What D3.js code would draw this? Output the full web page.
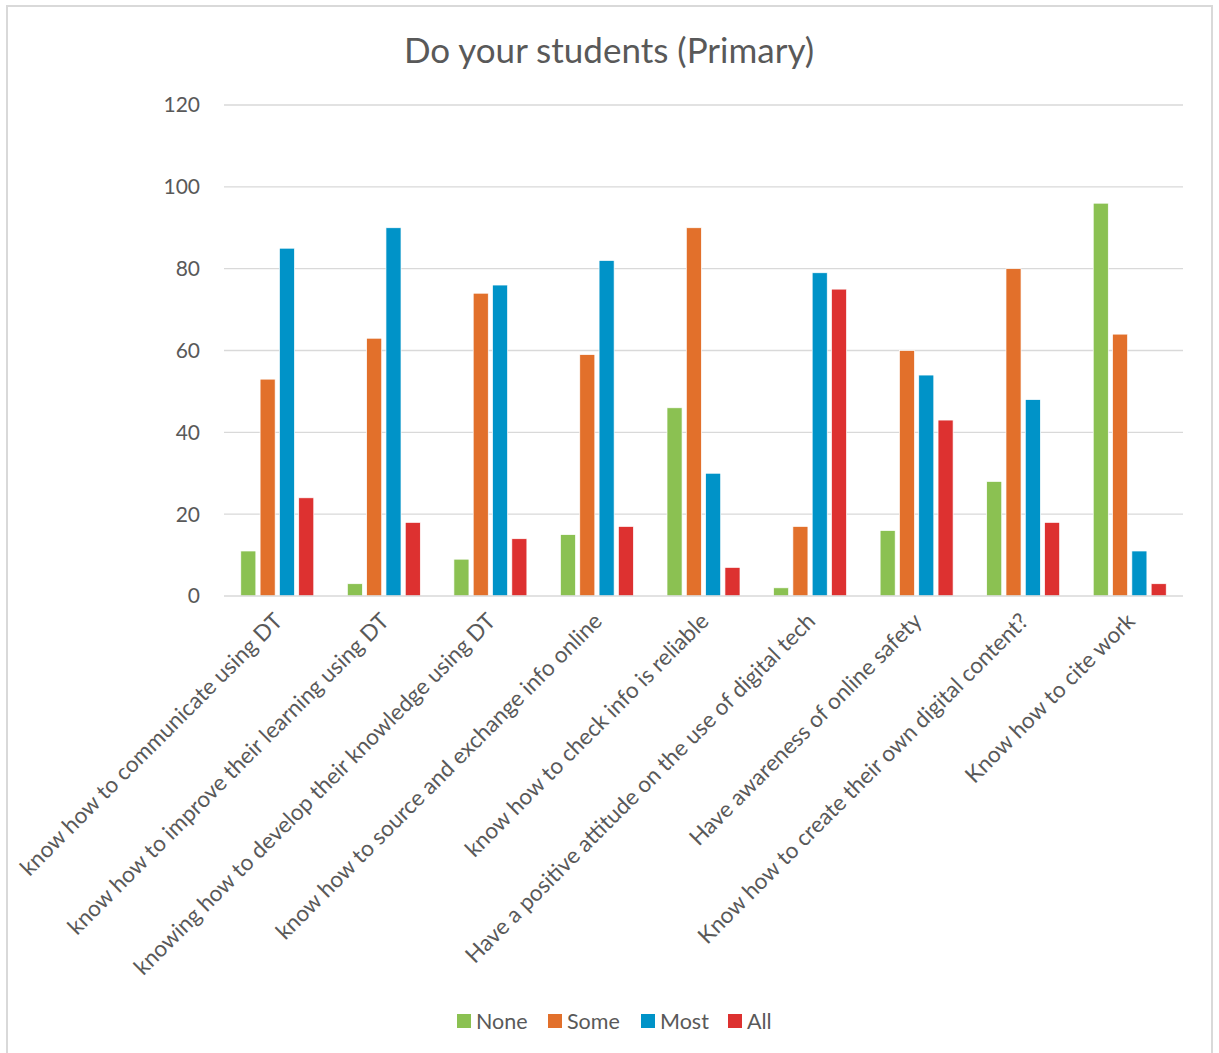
<!DOCTYPE html>
<html>
<head>
<meta charset="utf-8">
<script src="https://cdn.jsdelivr.net/npm/d3@7"></script>
<style>
  html, body { margin: 0; padding: 0; background: #fff; }
  svg { display: block; }
</style>
</head>
<body>
<svg id="chart" width="1219" height="1053"></svg>
<script>
const categories = [
  "know how to communicate using DT",
  "know how to improve their learning using DT",
  "knowing how to develop their knowledge using DT",
  "know how to source and exchange info online",
  "know how to check info is reliable",
  "Have a positive attitude on the use of digital tech",
  "Have awareness of online safety",
  "Know how to create their own digital content?",
  "Know how to cite work"
];
const seriesNames = ["None", "Some", "Most", "All"];
const noneValues = [11, 3, 9, 15, 46, 2, 16, 28, 96];
const someValues = [53, 63, 74, 59, 90, 17, 60, 80, 64];
const mostValues = [85, 90, 76, 82, 30, 79, 54, 48, 11];
const allValues  = [24, 18, 14, 17, 7, 75, 43, 18, 3];
const yTicks = [0, 20, 40, 60, 80, 100, 120];
const colors = ["#8BC152", "#E2702B", "#0093C8", "#DD3130"];
const titleText = "Do your students (Primary)";

(function () {
const seriesValues = [noneValues, someValues, mostValues, allValues];
const data = categories.map((c, i) => ({
  cat: c,
  vals: seriesNames.map((s, j) => ({ key: s, value: seriesValues[j][i], color: colors[j] }))
}));

const FONT = "Lato, 'Open Sans', sans-serif";
const svg = d3.select("#chart");

svg.append("rect").attr("x", 7).attr("y", 6).attr("width", 1205).attr("height", 1060)
  .attr("fill", "#fff").attr("stroke", "#D9D9D9").attr("stroke-width", 2);

const pL = 224, pR = 1183, pT = 105, pB = 596;

const x = d3.scaleBand().domain(categories).range([pL, pR]).padding(0);
const y = d3.scaleLinear().domain([0, 120]).range([pB, pT]);
const groupW = x.bandwidth() * 0.685;
const offset = (x.bandwidth() - groupW) / 2;
const x1 = d3.scaleBand().domain(seriesNames).range([offset, offset + groupW]).paddingInner(0.22).paddingOuter(0);

svg.append("g").selectAll("line").data(yTicks.filter(t => t > 0)).join("line")
  .attr("x1", pL).attr("x2", pR)
  .attr("y1", d => y(d)).attr("y2", d => y(d))
  .attr("stroke", "#D9D9D9").attr("stroke-width", 1.3);

svg.append("g").selectAll("text").data(yTicks).join("text")
  .attr("x", 200).attr("y", d => y(d)).attr("dy", "0.35em")
  .attr("text-anchor", "end")
  .attr("font-family", FONT).attr("font-size", 21).attr("fill", "#595959")
  .text(d => d);

const groups = svg.append("g").selectAll("g").data(data).join("g")
  .attr("transform", d => `translate(${x(d.cat)},0)`);
groups.selectAll("rect").data(d => d.vals).join("rect")
  .attr("x", d => x1(d.key))
  .attr("width", x1.bandwidth())
  .attr("y", d => y(d.value))
  .attr("height", d => y(0) - y(d.value))
  .attr("fill", d => d.color)
  .attr("stroke", "#fff").attr("stroke-width", 0.7);

svg.append("line").attr("x1", pL).attr("x2", pR).attr("y1", pB).attr("y2", pB)
  .attr("stroke", "#D9D9D9").attr("stroke-width", 1.5);

svg.append("g").selectAll("text").data(categories).join("text")
  .attr("transform", d => `translate(${x(d) + x.bandwidth() / 2 + 1},${pB + 21}) rotate(-45)`)
  .attr("text-anchor", "end")
  .attr("dy", "0.35em")
  .attr("font-family", FONT).attr("font-size", 22.5).attr("fill", "#595959")
  .text(d => d);

svg.append("text").attr("x", 609).attr("y", 63).attr("text-anchor", "middle")
  .attr("font-family", FONT).attr("font-size", 35).attr("fill", "#595959")
  .text(titleText);

const legendX = [457, 548, 641, 728];
const lg = svg.append("g").selectAll("g").data(seriesNames).join("g")
  .attr("transform", (d, i) => `translate(${legendX[i]},1014)`);
lg.append("rect").attr("width", 14).attr("height", 14).attr("fill", (d, i) => colors[i]);
lg.append("text").attr("x", 19).attr("y", 7).attr("dy", "0.35em")
  .attr("font-family", FONT).attr("font-size", 21.5).attr("fill", "#595959")
  .text(d => d);
})();
</script>
</body>
</html>
